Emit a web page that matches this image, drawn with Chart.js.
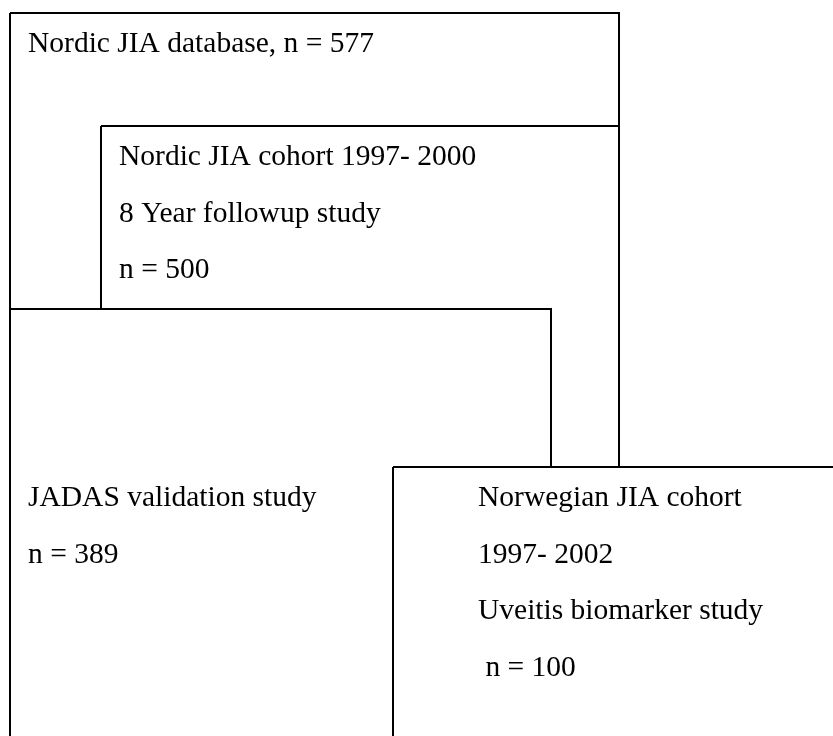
<!DOCTYPE html>
<html>
<head>
<meta charset="utf-8">
<script src="https://cdn.jsdelivr.net/npm/chart.js@4.4.0/dist/chart.umd.min.js"></script>
<style>
  html, body { margin: 0; padding: 0; background: #fff; }
  #wrap { width: 833px; height: 736px; position: relative; }
</style>
</head>
<body>
<div id="wrap"><canvas id="diagram"></canvas></div>
<script>
// Boxes of the study overview, back to front
const boxNames = ['Nordic JIA database', 'Nordic JIA cohort', 'JADAS validation', 'Norwegian JIA cohort'];
const boxLeft = [10, 101, 10, 393];
const boxTop = [13, 126, 309, 467];
const boxRight = [619, 619, 551, 845];
const boxBottom = [760, 760, 760, 760];

// Text lines inside each box
const boxLines = [
    ['Nordic JIA database, n = 577'],
    ['Nordic JIA cohort 1997- 2000', '8 Year followup study', 'n = 500'],
    ['JADAS validation study', 'n = 389'],
    ['Norwegian JIA cohort', '1997- 2002', 'Uveitis biomarker study', ' n = 100']
];

// where the first text baseline sits in each box
const textX = [28, 119, 28, 478];
const textY = [52, 165, 506, 506];
const lineGap = 56.5;

function rectPoints(i) {
    return [
        { x: boxLeft[i], y: boxTop[i] },
        { x: boxRight[i], y: boxTop[i] },
        { x: boxRight[i], y: boxBottom[i] },
        { x: boxLeft[i], y: boxBottom[i] },
        { x: boxLeft[i], y: boxTop[i] }
    ];
}

const datasets = boxNames.map((name, i) => ({
    label: name,
    data: rectPoints(i),
    showLine: true,
    fill: 'shape',
    backgroundColor: '#ffffff',
    borderColor: '#000000',
    borderWidth: 2,
    borderJoinStyle: 'miter',
    pointRadius: 0,
    tension: 0,
    order: boxNames.length - i
}));

const boxText = {
    id: 'boxText',
    afterDatasetsDraw(chart) {
        const ctx = chart.ctx;
        const xs = chart.scales.x;
        const ys = chart.scales.y;
        ctx.save();
        ctx.fillStyle = '#000';
        ctx.font = '29.5px "Liberation Serif", "Times New Roman", serif';
        ctx.textAlign = 'left';
        ctx.textBaseline = 'alphabetic';
        boxLines.forEach((lines, i) => {
            lines.forEach((txt, j) => {
                ctx.fillText(txt, xs.getPixelForValue(textX[i]), ys.getPixelForValue(textY[i] + j * lineGap));
            });
        });
        ctx.restore();
    }
};

new Chart(document.getElementById('diagram'), {
    type: 'scatter',
    data: { datasets },
    options: {
        responsive: true,
        maintainAspectRatio: false,
        animation: false,
        layout: { padding: 0 },
        plugins: {
            legend: { display: false },
            tooltip: { enabled: false }
        },
        scales: {
            x: { type: 'linear', min: 0, max: 833, display: false },
            y: { type: 'linear', min: 0, max: 736, reverse: true, display: false }
        }
    },
    plugins: [boxText]
});
</script>
</body>
</html>
